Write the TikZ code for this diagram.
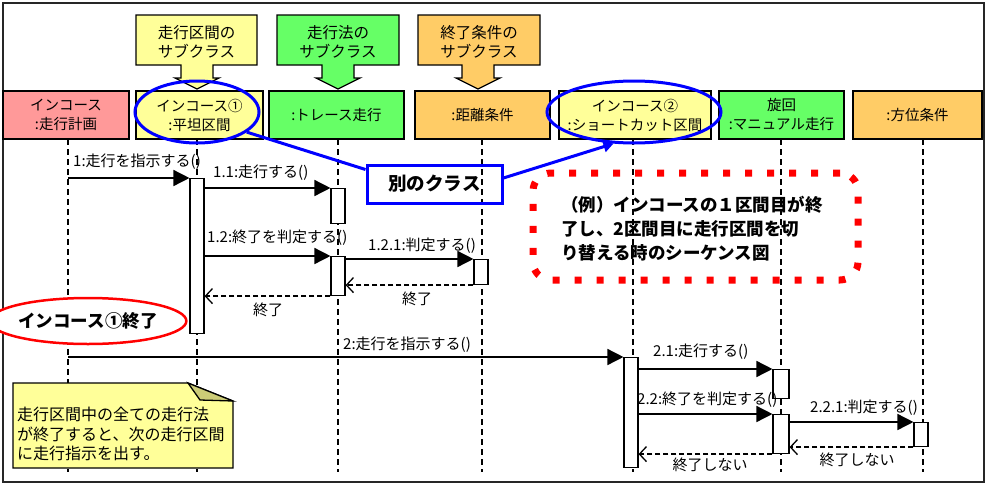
\documentclass[tikz,border=0pt]{standalone}
\usepackage{fontspec}
\setmainfont{Noto Sans CJK JP}
\usetikzlibrary{arrows.meta,shapes.geometric}
\definecolor{cpink}{HTML}{FF9999}
\definecolor{cyel}{HTML}{FFFF99}
\definecolor{cgreen}{HTML}{66FF66}
\definecolor{corange}{HTML}{FFCC66}
\definecolor{cfold}{HTML}{CCCC77}
\begin{document}
\begin{tikzpicture}[x=1pt,y=-1pt,
  hdr/.style={draw=black, line width=1.3pt, align=center, inner sep=0pt, minimum height=48pt, font=\fontsize{14.5}{19}\selectfont},
  callout/.style={draw=black, line width=1.3pt},
  cotext/.style={align=center, inner sep=0pt, font=\fontsize{15.5}{19}\selectfont},
  act/.style={draw=black, fill=white, line width=1.1pt, minimum width=14pt, inner sep=0pt, anchor=north},
  life/.style={line width=1.3pt, dash pattern=on 6pt off 4pt},
  msg/.style={line width=1.5pt, -{Triangle[length=16pt,width=16pt]}},
  ret/.style={line width=1.3pt, dash pattern=on 5pt off 3pt, -{Straight Barb[length=7pt,width=15pt,line width=1.3pt]}},
  lbl/.style={inner sep=0pt, font=\fontsize{15}{17}\selectfont},
  bigb/.style={font=\bfseries\fontsize{17.5}{24}\selectfont}
]
\useasboundingbox (0,0) rectangle (988,485);
\draw[line width=2pt, black!85] (3,3) rectangle (984,482);

% lifelines
\foreach \i/\x in {1/68,2/197,3/338,4/482,5/633,6/781,7/923}{
  \coordinate (T\i) at (\x,139);
  \coordinate (B\i) at (\x,472);
  \draw[life] (T\i) -- (B\i);
}

% header boxes
\node[hdr, fill=cpink,   minimum width=126pt] (H1) at (66,115)    {インコース\\:走行計画};
\node[hdr, fill=cyel,    minimum width=127pt] (H2) at (199.5,115) {インコース①\\:平坦区間};
\node[hdr, fill=cgreen,  minimum width=135pt] (H3) at (336.5,115) {:トレース走行};
\node[hdr, fill=corange, minimum width=135pt] (H4) at (482.5,115) {:距離条件};
\node[hdr, fill=cyel,    minimum width=152pt] (H5) at (635,115)   {インコース②\\:ショートカット区間};
\node[hdr, fill=cgreen,  minimum width=125pt] (H6) at (781.5,115) {旋回\\:マニュアル走行};
\node[hdr, fill=corange, minimum width=129pt] (H7) at (917.5,115) {:方位条件};

% callouts
\draw[callout, fill=cyel] (136,15) -- (257,15) -- (257,65) -- (213,65) -- (213,78) -- (219,78) -- (197,89) -- (175,78) -- (181,78) -- (181,65) -- (136,65) -- cycle;
\node[cotext] (CA) at (196.5,42) {走行区間の\\サブクラス};
\draw[callout, fill=cgreen] (277,15) -- (399,15) -- (399,65) -- (354,65) -- (354,78) -- (360,78) -- (338,89) -- (316,78) -- (322,78) -- (322,65) -- (277,65) -- cycle;
\node[cotext] (CB) at (338,42) {走行法の\\サブクラス};
\draw[callout, fill=corange] (418,15) -- (540,15) -- (540,65) -- (494,65) -- (494,78) -- (500,78) -- (478,89) -- (456,78) -- (462,78) -- (462,65) -- (418,65) -- cycle;
\node[cotext] (CC) at (479,42) {終了条件の\\サブクラス};

% activations
\node[act, minimum height=155pt] (a1)   at (197,178) {};
\node[act, minimum height=35pt]  (a11)  at (338,188) {};
\node[act, minimum height=39pt]  (a12)  at (338,256) {};
\node[act, minimum height=25pt]  (a121) at (481,259) {};
\node[act, minimum height=110pt] (a2)   at (631,357) {};
\node[act, minimum height=29pt, minimum width=16pt] (a21)  at (781,369) {};
\node[act, minimum height=39pt, minimum width=16pt] (a22)  at (781,414) {};
\node[act, minimum height=24pt]  (a221) at (921,422) {};

% messages
\draw[msg] (T1 |- a1.north) -- (a1.north west);
\draw[msg] (a1.east |- a11.north) -- (a11.north west);
\draw[msg] (a1.east |- a12.north) -- (a12.north west);
\draw[msg] (a12.east |- a121.north) -- (a121.north west);
\draw[ret] (a121.south west) -- (a12.east |- a121.south);
\draw[ret] (a12.south west) -- (a1.east |- a12.south);
\draw[msg] (T1 |- a2.north) -- (a2.north west);
\draw[msg] (a2.east |- a21.north) -- (a21.north west);
\draw[msg] (a2.east |- a22.north) -- (a22.north west);
\draw[msg] (a22.east |- a221.north) -- (a221.north west);
\draw[ret] (a221.south west) -- (a22.east |- a221.south);
\draw[ret] (a22.south west) -- (a2.east |- a22.south);

% message labels
\node[lbl, anchor=west] (l1)   at (73,162)  {1:走行を指示する()};
\node[lbl, anchor=west] (l11)  at (213,173) {1.1:走行する()};
\node[lbl, anchor=west] (l12)  at (207,238) {1.2:終了を判定する()};
\node[lbl, anchor=west] (l121) at (368,246) {1.2.1:判定する()};
\node[lbl] (lr121) at (417,299) {終了};
\node[lbl] (lr12)  at (268,310) {終了};
\node[lbl, anchor=west] (l2)   at (343,345) {2:走行を指示する()};
\node[lbl, anchor=west] (l21)  at (653,352) {2.1:走行する()};
\node[lbl, anchor=west] (l22)  at (637,400) {2.2:終了を判定する()};
\node[lbl, anchor=west] (l221) at (810,408) {2.2.1:判定する()};
\node[lbl] (lr221) at (857,460) {終了しない};
\node[lbl] (lr22)  at (710,465) {終了しない};

% blue ellipses and box
\node[draw=blue, line width=3pt, ellipse, minimum width=124pt, minimum height=62pt, inner sep=0pt] (E1) at (197,112) {};
\node[draw=blue, line width=3pt, ellipse, minimum width=174pt, minimum height=62pt, inner sep=0pt] (E2) at (634,112) {};
\node[draw=blue, line width=3pt, minimum width=135pt, minimum height=38pt, inner sep=0pt, font=\bfseries\fontsize{18.5}{20}\selectfont] (BX) at (434.5,184) {別のクラス};
\draw[blue, line width=3pt] (E1.-22) -- ([yshift=-6pt]BX.north west);
\draw[blue, line width=3pt, -{Triangle[length=10pt,width=11pt]}] ([yshift=6pt]BX.east) -- (E2.-123);

% red dotted box
\node[draw=red, line width=7pt, dash pattern=on 7pt off 15pt, rounded corners=18pt, minimum width=325pt, minimum height=107pt, inner sep=0pt] (EX) at (695.5,226.5) {};
\node[bigb, align=left, inner sep=0pt] (EXT) at (692,229) {（例）インコースの１区間目が終\\了し、2区間目に走行区間を切\\り替える時のシーケンス図};

% red ellipse
\node[draw=red, line width=2.5pt, fill=white, ellipse, minimum width=170pt, minimum height=46pt, inner sep=0pt, bigb] (RE) at (88,321) {インコース①終了};

% note
\draw[line width=1.3pt, fill=cyel] (13,383) -- (188,383) -- (233,401) -- (233,468) -- (13,468) -- cycle;
\draw[line width=1.3pt, fill=cfold] (188,383) -- (200,400) -- (233,401) -- cycle;
\node[align=left, anchor=west, inner sep=0pt, font=\fontsize{16}{19.5}\selectfont] (NT) at (17,434) {走行区間中の全ての走行法\\が終了すると、次の走行区間\\に走行指示を出す。};
\end{tikzpicture}
\end{document}
